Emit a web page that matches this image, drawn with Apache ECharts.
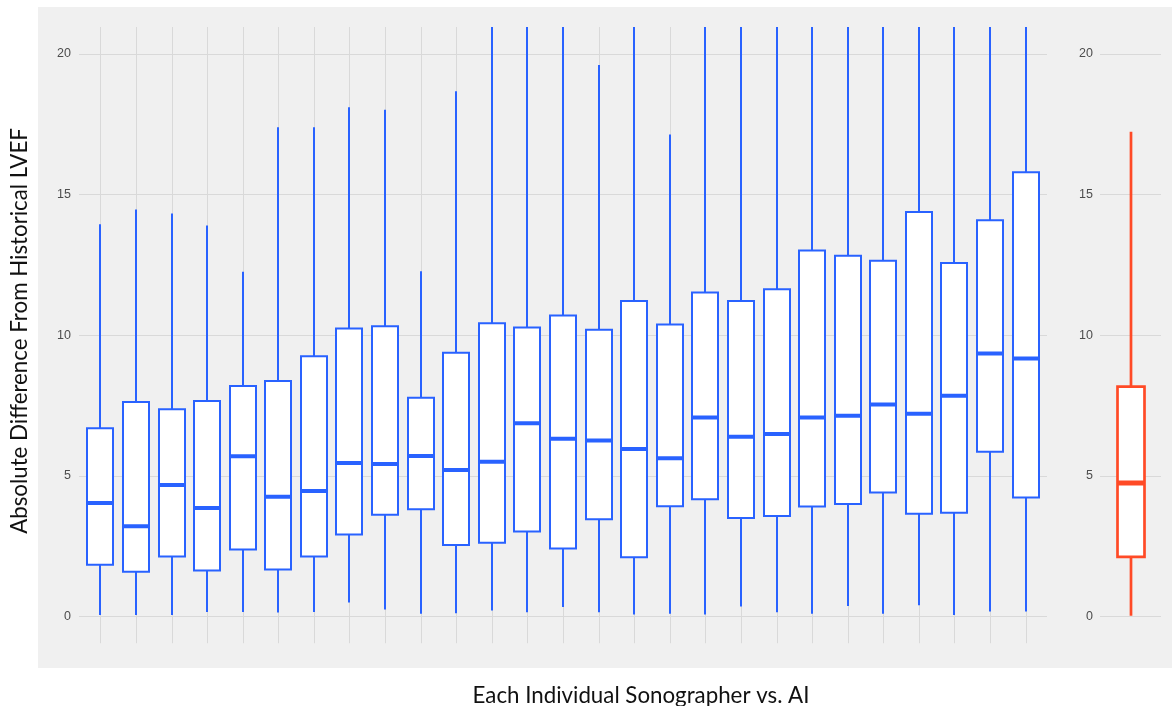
<!DOCTYPE html>
<html><head><meta charset="utf-8">
<script src="https://cdn.jsdelivr.net/npm/echarts@6/dist/echarts.min.js"></script>
<style>html,body{margin:0;padding:0;background:#fff}#c{width:1172px;height:706px}</style>
</head><body><div id="c"></div>
<script>
// Sonographers (not labelled in the original)
const categories = ['1','2','3','4','5','6','7','8','9','10','11','12','13','14','15','16','17','18','19','20','21','22','23','24','25','26','27'];
const whiskerMin = [0.05,0.05,0.05,0.16,0.16,0.14,0.16,0.5,0.25,0.1,0.12,0.21,0.15,0.34,0.15,0.07,0.1,0.07,0.36,0.15,0.1,0.37,0.1,0.4,0.05,0.18,0.18];
const q1 = [1.84,1.59,2.13,1.64,2.38,1.67,2.13,2.92,3.62,3.81,2.54,2.62,3.02,2.42,3.46,2.11,3.92,4.17,3.5,3.57,3.91,4.0,4.41,3.65,3.69,5.86,4.23];
const median = [4.04,3.21,4.68,3.86,5.7,4.26,4.46,5.46,5.42,5.71,5.21,5.5,6.87,6.32,6.26,5.96,5.63,7.08,6.39,6.49,7.08,7.14,7.54,7.21,7.85,9.35,9.17];
const q3 = [6.69,7.63,7.37,7.66,8.2,8.37,9.25,10.24,10.32,7.78,9.38,10.43,10.28,10.7,10.2,11.22,10.38,11.52,11.22,11.64,13.01,12.83,12.65,14.38,12.57,14.09,15.8];
const whiskerMax = [13.95,14.47,14.33,13.9,12.26,17.4,17.4,18.11,18.02,12.28,18.68,21,21,21,19.61,21,17.14,21,21,21,21,21,21,21,21,21,21];

// AI
const aiCategory = ['AI'];
const aiMin = [0.03];
const aiQ1 = [2.12];
const aiMedian = [4.75];
const aiQ3 = [8.17];
const aiMax = [17.24];

const yTicks = [0, 5, 10, 15, 20];
const xTitle = 'Each Individual Sonographer vs. AI';
const yTitle = 'Absolute Difference From Historical LVEF';

const sonoData = categories.map((c, i) => [c, whiskerMin[i], q1[i], median[i], q3[i], whiskerMax[i]]);
const aiData = aiCategory.map((c, i) => [c, aiMin[i], aiQ1[i], aiMedian[i], aiQ3[i], aiMax[i]]);

function boxRenderer(color, boxW, lw, medW, showGrid) {
  return function (params, api) {
    const i = api.value(0);
    const pMin = api.coord([i, api.value(1)]);
    const pQ1 = api.coord([i, api.value(2)]);
    const pMed = api.coord([i, api.value(3)]);
    const pQ3 = api.coord([i, api.value(4)]);
    const pMax = api.coord([i, api.value(5)]);
    const cs = params.coordSys;
    const x = Math.round(pMed[0]);
    const children = [];
    if (showGrid) {
      children.push({type: 'line', silent: true,
        shape: {x1: x + 0.5, y1: cs.y, x2: x + 0.5, y2: cs.y + cs.height},
        style: {stroke: '#d9d9d9', lineWidth: 1}});
    }
    children.push({type: 'line', shape: {x1: x, y1: pMax[1], x2: x, y2: pQ3[1]}, style: {stroke: color, lineWidth: lw}});
    children.push({type: 'line', shape: {x1: x, y1: pQ1[1], x2: x, y2: pMin[1]}, style: {stroke: color, lineWidth: lw}});
    children.push({type: 'rect', shape: {x: x - boxW / 2, y: pQ3[1], width: boxW, height: pQ1[1] - pQ3[1]},
      style: {fill: '#ffffff', stroke: color, lineWidth: lw}});
    children.push({type: 'line', shape: {x1: x - boxW / 2, y1: pMed[1], x2: x + boxW / 2, y2: pMed[1]},
      style: {stroke: color, lineWidth: medW}});
    return {type: 'group', children: children};
  };
}

const labelStyle = {color: '#4d4d4d', fontSize: 12.5, fontFamily: 'Liberation Sans, Arial, sans-serif'};
const chart = echarts.init(document.getElementById('c'), null, {renderer: 'canvas'});
chart.setOption({
  animation: false,
  graphic: [
    {type: 'rect', z: -10, silent: true, shape: {x: 38, y: 7, width: 1134, height: 661}, style: {fill: '#f0f0f0'}},
    {type: 'text', x: 641, y: 696, silent: true,
      style: {text: xTitle, fontSize: 22.3, fontFamily: 'Lato, "Open Sans", sans-serif', fill: '#111', align: 'center', verticalAlign: 'middle'}},
    {type: 'text', x: 20, y: 331, rotation: Math.PI / 2, silent: true,
      style: {text: yTitle, fontSize: 22.3, fontFamily: 'Lato, "Open Sans", sans-serif', fill: '#111', align: 'center', verticalAlign: 'middle'}}
  ],
  grid: [
    {left: 82.56, right: 128.56, top: 27, bottom: 62.5},
    {left: 79, right: 125, top: 54, bottom: 89.5},
    {left: 1100, right: 11, top: 54, bottom: 89.5}
  ],
  xAxis: [
    {gridIndex: 0, type: 'category', data: categories, show: false},
    {gridIndex: 1, type: 'value', min: 0, max: 1, show: false},
    {gridIndex: 2, type: 'category', data: aiCategory, show: false}
  ],
  yAxis: [
    {gridIndex: 0, type: 'value', min: -0.96, max: 20.96, show: false},
    {gridIndex: 1, type: 'value', min: yTicks[0], max: yTicks[yTicks.length - 1], interval: 5,
      axisLine: {show: false}, axisTick: {show: false},
      splitLine: {lineStyle: {color: '#d9d9d9', width: 1}},
      axisLabel: Object.assign({margin: 8}, labelStyle)},
    {gridIndex: 2, type: 'value', min: yTicks[0], max: yTicks[yTicks.length - 1], interval: 5,
      axisLine: {show: false}, axisTick: {show: false},
      splitLine: {lineStyle: {color: '#d9d9d9', width: 1}},
      axisLabel: Object.assign({margin: 7}, labelStyle)}
  ],
  series: [
    {type: 'custom', name: 'Sonographers', xAxisIndex: 0, yAxisIndex: 0, clip: true,
      data: sonoData, encode: {x: 0, y: [1, 2, 3, 4, 5]},
      renderItem: boxRenderer('#2962ff', 26, 2, 4, true)},
    {type: 'custom', name: 'AI', xAxisIndex: 2, yAxisIndex: 2, clip: true,
      data: aiData, encode: {x: 0, y: [1, 2, 3, 4, 5]},
      renderItem: boxRenderer('#ff4a26', 27, 2.7, 5, false)}
  ]
});
</script></body></html>
